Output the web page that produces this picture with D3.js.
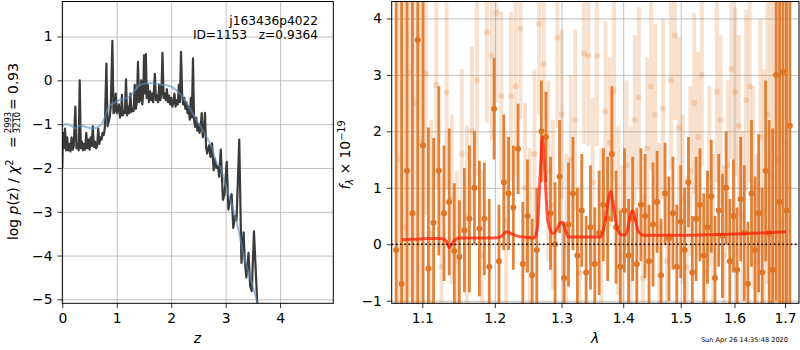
<!DOCTYPE html>
<html>
<head>
<meta charset="utf-8">
<script src="https://cdn.jsdelivr.net/npm/d3@7"></script>
<style>
body { margin: 0; background: #fff; }
text { font-family: "DejaVu Sans", sans-serif; fill: #000; }
</style>
</head>
<body>
<div id="chart"></div>
<script>
// ---- p(z) panel data
var zGrid = [0.00,0.01,0.03,0.05,0.07,0.09,0.11,0.13,0.15,0.17,0.19,0.21,0.24,0.26,0.28,0.30,0.32,0.34,0.36,0.38,
  0.40,0.42,0.44,0.46,0.48,0.50,0.52,0.54,0.56,0.58,0.60,0.62,0.64,0.66,0.68,0.70,0.72,0.74,0.76,0.78,
  0.81,0.83,0.85,0.87,0.89,0.92,0.94,0.96,0.98,1.00,1.02,1.04,1.06,1.08,1.095,1.11,1.13,1.15,1.17,1.19,
  1.21,1.23,1.25,1.27,1.29,1.31,1.33,1.35,1.37,1.39,1.41,1.43,1.45,1.47,1.49,1.50,1.52,1.535,1.55,1.57,
  1.59,1.61,1.63,1.65,1.67,1.70,1.72,1.74,1.76,1.78,1.80,1.82,1.84,1.86,1.88,1.90,1.92,1.94,1.96,1.98,
  2.00,2.02,2.04,2.06,2.08,2.10,2.12,2.14,2.16,2.18,2.20,2.22,2.24,2.26,2.28,2.30,2.32,2.34,2.36,2.38,
  2.40,2.42,2.44,2.46,2.48,2.50,2.52,2.54,2.56,2.58,2.60,2.62,2.64,2.66,2.68,2.70,2.72,2.75,2.78,2.80,
  2.83,2.86,2.88,2.91,2.95,2.98,3.02,3.05,3.08,3.11,3.14,3.17,3.20,3.25,3.29,3.33,3.35,3.38,3.42,3.45,
  3.48,3.52,3.58,3.62];
var logPz = [-2.0,-1.2,-1.55,-1.1,-1.6,-1.3,-1.6,-1.45,-1.62,-1.3,-1.58,-1.5,-0.6,-1.55,-1.45,-1.6,0.0,-1.55,-1.4,-1.6,
  -1.45,-1.58,-1.2,-1.55,-1.35,-1.58,-1.3,-1.5,-1.05,-1.52,-1.4,-1.55,-1.5,-1.1,-1.45,-1.3,-1.35,-1.2,-1.25,-1.1,
  0.38,-1.05,-0.95,-0.85,-0.6,0.9,-0.75,-0.7,-0.3,-0.75,-0.7,-0.55,-0.85,-0.75,-0.33,-0.8,-0.7,-0.75,0.02,-0.8,
  -0.6,-0.75,-0.3,-0.72,-0.65,-0.7,-0.1,-0.65,-0.5,0.42,-0.5,-0.45,0.0,-0.55,-0.2,0.57,-0.3,0.6,-0.4,-0.1,
  -0.5,-0.25,-0.45,-0.3,-0.5,0.15,-0.45,-0.35,-0.5,-0.1,-0.45,-0.3,0.63,-0.4,-0.3,-0.45,-0.2,-0.5,-0.35,-0.55,
  -0.4,-0.6,-0.5,-0.3,-0.6,-0.45,-0.55,-0.1,-0.5,0.65,-0.3,-0.55,-0.4,-0.65,-0.5,-0.75,-0.6,-0.9,-0.4,-0.85,
  0.5,-0.9,-1.06,-0.85,-1.15,-1.0,-1.2,-1.1,-0.75,-1.3,-1.2,-0.74,-1.5,-1.67,-1.55,-1.48,-1.75,-1.44,-2.05,-1.8,
  -2.0,-1.96,-2.2,-1.58,-2.73,-2.6,-1.86,-2.95,-2.75,-2.6,-3.37,-3.1,-3.2,-1.35,-4.17,-3.47,-4.1,-4.5,-3.94,-4.7,
  -4.81,-3.45,-5.08,-5.4];
var zSmooth = [0.00,0.04,0.10,0.15,0.24,0.33,0.45,0.57,0.67,0.72,0.78,0.85,0.95,1.03,1.22,1.32,1.43,1.61,1.80,1.92,
  2.00,2.10,2.20,2.29,2.38,2.47,2.56,2.65,2.75,2.84,2.90,3.00,3.14,3.25,3.33,3.45,3.58,3.62];
var logPzSmooth = [-1.05,-1.0,-1.0,-1.03,-1.1,-1.03,-1.07,-1.1,-1.05,-1.0,-0.85,-0.6,-0.52,-0.46,-0.38,-0.25,-0.1,-0.06,-0.1,-0.11,
  -0.14,-0.23,-0.36,-0.53,-0.72,-0.91,-1.1,-1.29,-1.55,-1.9,-1.97,-2.4,-2.95,-3.5,-4.0,-4.5,-5.08,-5.3];
var pzXTicks = [0, 1, 2, 3, 4];
var pzYTicks = [-5, -4, -3, -2, -1, 0, 1];

// ---- spectrum panel data (binned, dark)
var lamBin = [1.066,1.073,1.080,1.087,1.094,1.101,1.108,1.115,1.122,1.129,1.136,1.143,1.150,1.157,1.164,1.171,1.178,1.185,1.192,1.199,
  1.206,1.213,1.220,1.227,1.234,1.241,1.248,1.255,1.262,1.269,1.276,1.283,1.290,1.297,1.304,1.311,1.318,1.325,1.332,1.339,
  1.346,1.353,1.360,1.367,1.374,1.381,1.388,1.395,1.402,1.409,1.416,1.423,1.430,1.437,1.444,1.451,1.458,1.465,1.472,1.479,
  1.486,1.493,1.500,1.507,1.514,1.521,1.528,1.535,1.542,1.549,1.556,1.563,1.570,1.577,1.584,1.591,1.598,1.605,1.612,1.619,
  1.626,1.633,1.640,1.647,1.654,1.661,1.668,1.675,1.682,1.689,1.696,1.703,1.710];
var fluxBin = [-0.1,-0.7,1.3,0.55,3.62,1.75,-0.43,0.38,1.3,0.55,0.75,-0.12,-0.22,0.25,0.45,1.0,0.28,0.45,-0.4,2.4,
  -0.3,1.1,0.9,0.65,1.69,-0.35,0.5,-0.55,-0.1,2.0,1.9,0.55,0.0,1.2,-0.6,0.35,0.9,-0.2,0.6,-0.5,
  0.3,-0.35,0.2,0.7,0.45,1.6,0.3,-0.4,0.6,-0.2,0.45,-0.35,0.7,0.5,-0.3,0.35,0.75,-0.55,0.9,0.1,
  0.55,-0.4,0.4,-0.1,1.1,-0.5,0.45,0.7,-0.2,0.3,0.85,-0.6,0.6,0.15,1.0,-0.3,0.5,-0.45,0.8,0.2,
  -0.7,0.9,-0.1,0.55,-0.5,1.3,0.2,-0.45,3.0,0.75,3.05,0.6,2.1];
var errBin = [5,5,5,5,5,3,2.5,1.5,1.5,1.2,1.3,1.2,1.0,1.1,1.3,1.0,1.2,1.0,1.2,0.9,
  1.0,1.2,1.0,1.1,0.8,1.1,1.0,1.0,1.1,0.9,0.8,1.0,1.1,1.0,1.0,1.1,1.0,1.2,1.0,1.0,
  1.1,1.0,1.1,1.0,1.1,1.2,1.0,1.0,1.1,1.0,1.1,1.0,1.0,1.1,1.0,1.1,0.9,1.0,0.9,1.1,
  1.0,1.1,1.0,1.1,0.8,1.0,1.1,1.0,1.1,1.0,1.0,1.1,1.0,1.1,1.0,1.1,1.0,1.1,1.1,1.2,
  1.1,1.3,1.3,1.4,1.5,1.6,2.0,2.5,4,5,5,5,5];

// ---- spectrum panel data (unbinned, light)
var lamRaw = [1.0695,1.0765,1.0835,1.0905,1.0975,1.1045,1.1115,1.1185,1.1255,1.1325,1.1395,1.1465,1.1535,1.1605,1.1675,1.1745,1.1815,1.1885,1.1955,1.2025,
  1.2095,1.2165,1.2235,1.2305,1.2375,1.2445,1.2515,1.2585,1.2655,1.2725,1.2795,1.2865,1.2935,1.3005,1.3075,1.3145,1.3215,1.3285,1.3355,1.3425,
  1.3495,1.3565,1.3635,1.3705,1.3775,1.3845,1.3915,1.3985,1.4055,1.4125,1.4195,1.4265,1.4335,1.4405,1.4475,1.4545,1.4615,1.4685,1.4755,1.4825,
  1.4895,1.4965,1.5035,1.5105,1.5175,1.5245,1.5315,1.5385,1.5455,1.5525,1.5595,1.5665,1.5735,1.5805,1.5875,1.5945,1.6015,1.6085,1.6155,1.6225,
  1.6295,1.6365,1.6435,1.6505,1.6575,1.6645,1.6715,1.6785,1.6855,1.6925,1.6995,1.7065];
var fluxRaw = [1.5,0.3,3.05,2.5,1.8,3.02,0.2,2.82,-0.4,2.69,0.8,-0.3,1.6,0.5,2.0,2.9,-0.2,3.75,3.34,4.1,
  2.62,0.4,2.62,2.8,3.82,1.0,0.1,1.6,3.9,3.19,1.3,0.7,3.66,2.3,0.0,1.5,2.2,-0.5,3.38,3.34,
  1.1,3.34,0.2,2.35,1.8,2.72,0.6,-0.2,1.4,0.5,2.2,2.6,-0.6,1.7,2.8,2.3,0.3,2.4,-0.3,2.9,
  3.7,2.07,0.8,-0.4,1.3,2.5,1.9,3.0,-0.5,1.2,0.1,2.7,2.2,-0.2,1.4,3.1,2.7,2.1,0.5,2.55,
  2.8,1.0,-0.3,1.9,0.6,2.3,1.2,2.0,1.5,0.4,1.8,1.0];
var errRaw = [4,4,4,4,3,2.5,2,1.8,1.6,1.7,1.5,1.6,1.5,1.6,1.5,1.7,1.5,1.6,1.5,1.6,
  1.5,1.6,1.5,1.6,1.6,1.5,1.6,1.5,1.6,1.5,1.6,1.5,1.6,1.5,1.6,1.5,1.6,1.5,1.6,1.6,
  1.5,1.6,1.5,1.6,1.5,1.6,1.5,1.6,1.5,1.6,1.5,1.6,1.5,1.6,1.5,1.6,1.5,1.6,1.5,1.6,
  1.5,1.6,1.5,1.6,1.5,1.6,1.5,1.6,1.5,1.6,1.5,1.6,1.5,1.6,1.5,1.6,1.5,1.6,1.5,1.6,
  1.7,1.8,1.9,2.1,2.5,3,4,4.5,5,5,5,5];

// ---- model
var lamModel = [1.073,1.09,1.11,1.125,1.132,1.1362,1.142,1.15,1.17,1.19,1.205,1.211,1.217,1.225,1.235,1.25,1.258,1.263,1.267,1.2705,
  1.274,1.279,1.2868,1.293,1.297,1.3006,1.305,1.3107,1.32,1.34,1.362,1.368,1.374,1.379,1.384,1.39,1.3965,1.4027,1.408,1.412,
  1.416,1.42,1.426,1.435,1.45,1.5,1.55,1.6,1.65,1.702];
var fluxModel = [0.08,0.09,0.1,0.1,0.06,-0.06,0.05,0.11,0.11,0.11,0.12,0.16,0.22,0.18,0.14,0.12,0.11,0.3,1.2,1.9,
  1.3,0.4,0.19,0.27,0.36,0.39,0.3,0.13,0.13,0.13,0.13,0.3,0.7,0.94,0.65,0.28,0.17,0.16,0.3,0.52,
  0.6,0.45,0.22,0.16,0.16,0.16,0.17,0.18,0.2,0.22];
var specXTicks = [1.1, 1.2, 1.3, 1.4, 1.5, 1.6, 1.7];
var specYTicks = [-1, 0, 1, 2, 3, 4];

var darkOrange = "rgb(222,118,38)";
var tickFont = "13.9px";

var svg = d3.select("#chart")
    .append("svg")
    .attr("width", 800)
    .attr("height", 350);

function drawGrid(g, x, y, w, h, xt, yt) {
    g.append("g")
        .attr("transform", "translate(0," + h + ")")
        .call(d3.axisBottom(x).tickValues(xt).tickSize(-h).tickFormat(""))
        .call(function(s) { s.select(".domain").remove(); })
        .selectAll("line").attr("stroke", "#b0b0b0").attr("stroke-width", 0.8);
    g.append("g")
        .call(d3.axisLeft(y).tickValues(yt).tickSize(-w).tickFormat(""))
        .call(function(s) { s.select(".domain").remove(); })
        .selectAll("line").attr("stroke", "#b0b0b0").attr("stroke-width", 0.8);
}

function drawTicks(g, x, y, w, h, xt, yt, xfmt) {
    var xa = g.append("g")
        .attr("transform", "translate(0," + h + ")")
        .call(d3.axisBottom(x).tickValues(xt).tickSize(4.9).tickPadding(4.9).tickFormat(xfmt));
    var ya = g.append("g")
        .call(d3.axisLeft(y).tickValues(yt).tickSize(4.9).tickPadding(4.9).tickFormat(d3.format("d")));
    [xa, ya].forEach(function(a) {
        a.select(".domain").remove();
        a.selectAll("line").attr("stroke", "#000").attr("stroke-width", 0.8);
        a.selectAll("text").style("font-size", tickFont).style("font-family", "DejaVu Sans");
    });
    g.append("rect")
        .attr("width", w).attr("height", h)
        .attr("fill", "none").attr("stroke", "#000").attr("stroke-width", 1);
}

// ================= left panel: p(z)
var L = {left: 62.3, top: 1.5, width: 271, height: 301.8};
var gL = svg.append("g").attr("transform", "translate(" + L.left + "," + L.top + ")");
var xz = d3.scaleLinear().domain([0, 4.977]).range([0, L.width]);
var yz = d3.scaleLinear().domain([-5.09, 1.80]).range([L.height, 0]);

drawGrid(gL, xz, yz, L.width, L.height, pzXTicks, pzYTicks);

gL.append("clipPath").attr("id", "clipL")
    .append("rect").attr("width", L.width).attr("height", L.height);

var lineZ = d3.line()
    .x(function(d) { return xz(d[0]); })
    .y(function(d) { return yz(d[1]); });

gL.append("path")
    .datum(d3.zip(zGrid, logPz))
    .attr("clip-path", "url(#clipL)")
    .attr("d", lineZ)
    .attr("fill", "none")
    .attr("stroke", "#3a3a3a")
    .attr("stroke-width", 2.2)
    .attr("stroke-linejoin", "round");

gL.append("path")
    .datum(d3.zip(zSmooth, logPzSmooth))
    .attr("clip-path", "url(#clipL)")
    .attr("d", lineZ.curve(d3.curveMonotoneX))
    .attr("fill", "none")
    .attr("stroke", "#5a93c4")
    .attr("stroke-opacity", 0.6)
    .attr("stroke-width", 2);

drawTicks(gL, xz, yz, L.width, L.height, pzXTicks, pzYTicks, d3.format("d"));

gL.append("text")
    .attr("x", 318 - L.left).attr("y", 24.5 - L.top)
    .attr("text-anchor", "end")
    .style("font-size", "12.2px")
    .text("j163436p4022");
gL.append("text")
    .attr("x", 318 - L.left).attr("y", 38.5 - L.top)
    .attr("text-anchor", "end")
    .style("font-size", "12.2px")
    .style("white-space", "pre")
    .text("ID=1153   z=0.9364");

// x label
svg.append("text")
    .attr("x", 197.5).attr("y", 343)
    .attr("text-anchor", "middle")
    .style("font-size", "13.9px").style("font-style", "italic")
    .text("z");

// y label: log p(z) / chi^2 = 2993/3210 = 0.93
var yl = svg.append("g").attr("transform", "translate(18,240) rotate(-90)");
var t1 = yl.append("text").attr("x", 0).attr("y", 0).style("font-size", "13.9px");
t1.append("tspan").text("log ");
t1.append("tspan").style("font-style", "italic").text("p");
t1.append("tspan").text("(z) / ");
t1.append("tspan").style("font-style", "italic").text("χ");
t1.append("tspan").attr("dy", -5.5).style("font-size", "9.7px").text("2");
yl.append("text").attr("x", 92).attr("y", 0).style("font-size", "13.9px").text("=");
yl.append("text").attr("x", 117.5).attr("y", -7).attr("text-anchor", "middle").style("font-size", "8.4px").text("2993");
yl.append("line").attr("x1", 108).attr("x2", 127).attr("y1", -5.2).attr("y2", -5.2)
    .attr("stroke", "#000").attr("stroke-width", 0.7);
yl.append("text").attr("x", 117.5).attr("y", 1.5).attr("text-anchor", "middle").style("font-size", "8.4px").text("3210");
yl.append("text").attr("x", 130).attr("y", 0).style("font-size", "13.9px").text("= 0.93");

// ================= right panel: spectrum
var R = {left: 391.7, top: 1.5, width: 407.3, height: 301.8};
var gR = svg.append("g").attr("transform", "translate(" + R.left + "," + R.top + ")");
var xl = d3.scaleLog().domain([1.0603, 1.7288]).range([0, R.width]);
var yf = d3.scaleLinear().domain([-1.046, 4.30]).range([R.height, 0]);

drawGrid(gR, xl, yf, R.width, R.height, specXTicks, specYTicks);

gR.append("clipPath").attr("id", "clipR")
    .append("rect").attr("width", R.width).attr("height", R.height);
var plot = gR.append("g").attr("clip-path", "url(#clipR)");

var rawData = lamRaw.map(function(l, i) { return {lam: l, f: fluxRaw[i], e: errRaw[i]}; });
var binData = lamBin.map(function(l, i) { return {lam: l, f: fluxBin[i], e: errBin[i]}; });

plot.selectAll(".rawbar")
    .data(rawData)
    .enter()
    .append("line")
    .attr("x1", function(d) { return xl(d.lam); })
    .attr("x2", function(d) { return xl(d.lam); })
    .attr("y1", function(d) { return yf(d.f - d.e); })
    .attr("y2", function(d) { return yf(d.f + d.e); })
    .attr("stroke", darkOrange)
    .attr("stroke-opacity", 0.22)
    .attr("stroke-width", 4);

plot.selectAll(".rawpt")
    .data(rawData)
    .enter()
    .append("circle")
    .attr("cx", function(d) { return xl(d.lam); })
    .attr("cy", function(d) { return yf(d.f); })
    .attr("r", 3)
    .attr("fill", darkOrange)
    .attr("fill-opacity", 0.22);

plot.selectAll(".binbar")
    .data(binData)
    .enter()
    .append("line")
    .attr("x1", function(d) { return xl(d.lam); })
    .attr("x2", function(d) { return xl(d.lam); })
    .attr("y1", function(d) { return yf(d.f - d.e); })
    .attr("y2", function(d) { return yf(d.f + d.e); })
    .attr("stroke", darkOrange)
    .attr("stroke-opacity", 0.9)
    .attr("stroke-width", 2.8);

plot.selectAll(".binpt")
    .data(binData)
    .enter()
    .append("circle")
    .attr("cx", function(d) { return xl(d.lam); })
    .attr("cy", function(d) { return yf(d.f); })
    .attr("r", 3)
    .attr("fill", darkOrange);

plot.append("path")
    .datum(d3.zip(lamModel, fluxModel))
    .attr("d", d3.line()
        .curve(d3.curveMonotoneX)
        .x(function(d) { return xl(d[0]); })
        .y(function(d) { return yf(d[1]); }))
    .attr("fill", "none")
    .attr("stroke", "#ff1a00")
    .attr("stroke-opacity", 0.72)
    .attr("stroke-width", 3);

plot.append("line")
    .attr("x1", 0).attr("x2", R.width)
    .attr("y1", yf(0)).attr("y2", yf(0))
    .attr("stroke", "#000")
    .attr("stroke-width", 1.6)
    .attr("stroke-dasharray", "1.6,2.6");

drawTicks(gR, xl, yf, R.width, R.height, specXTicks, specYTicks, d3.format(".1f"));

svg.append("text")
    .attr("x", 595).attr("y", 343)
    .attr("text-anchor", "middle")
    .style("font-size", "13.9px").style("font-style", "italic")
    .text("λ");

var yr = svg.append("g").attr("transform", "translate(350,155) rotate(-90)");
var t2 = yr.append("text").attr("text-anchor", "middle").style("font-size", "13.9px");
t2.append("tspan").style("font-style", "italic").text("f");
t2.append("tspan").attr("dy", 3).style("font-size", "9.7px").style("font-style", "italic").text("λ");
t2.append("tspan").attr("dy", -3).text(" × 10");
t2.append("tspan").attr("dy", -5.5).style("font-size", "9.7px").text("−19");

svg.append("text")
    .attr("x", 788).attr("y", 342)
    .attr("text-anchor", "end")
    .style("font-size", "6.6px")
    .text("Sun Apr 26 14:35:48 2020");
</script>
</body>
</html>
